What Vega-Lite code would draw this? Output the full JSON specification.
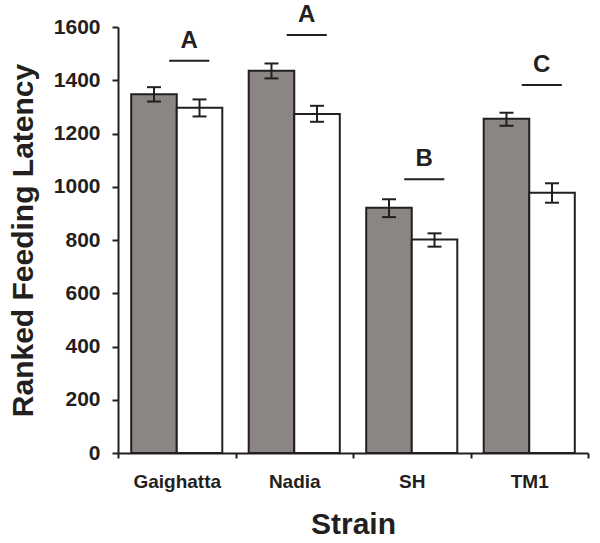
{
  "$schema": "https://vega.github.io/schema/vega-lite/v6.json",
  "width": 470,
  "height": 426,
  "autosize": {"type": "none"},
  "padding": {"left": 118, "top": 27, "right": 12, "bottom": 90},
  "background": "white",
  "config": {
    "view": {"stroke": null},
    "font": "Liberation Sans",
    "axis": {
      "grid": false,
      "domainColor": "#231f20",
      "tickColor": "#231f20",
      "domainWidth": 2,
      "tickWidth": 2,
      "labelColor": "#231f20",
      "titleColor": "#231f20",
      "labelFontWeight": "bold",
      "titleFontWeight": "bold"
    }
  },
  "datasets": {
    "bars": [
      {"Strain": "Gaighatta", "Group": "Group 1", "Mean": 1347, "Lo": 1320, "Hi": 1374},
      {"Strain": "Gaighatta", "Group": "Group 2", "Mean": 1297, "Lo": 1264, "Hi": 1328},
      {"Strain": "Nadia", "Group": "Group 1", "Mean": 1436, "Lo": 1407, "Hi": 1463},
      {"Strain": "Nadia", "Group": "Group 2", "Mean": 1273, "Lo": 1244, "Hi": 1304},
      {"Strain": "SH", "Group": "Group 1", "Mean": 921, "Lo": 886, "Hi": 953},
      {"Strain": "SH", "Group": "Group 2", "Mean": 802, "Lo": 775, "Hi": 825},
      {"Strain": "TM1", "Group": "Group 1", "Mean": 1255, "Lo": 1229, "Hi": 1278},
      {"Strain": "TM1", "Group": "Group 2", "Mean": 977, "Lo": 940, "Hi": 1013}
    ],
    "sig": [
      {"Strain": "Gaighatta", "Letter": "A", "Level": 1473},
      {"Strain": "Nadia", "Letter": "A", "Level": 1570},
      {"Strain": "SH", "Letter": "B", "Level": 1028},
      {"Strain": "TM1", "Letter": "C", "Level": 1382}
    ]
  },
  "layer": [
    {
      "data": {"name": "bars"},
      "mark": {"type": "bar", "stroke": "#231f20", "strokeWidth": 2},
      "encoding": {
        "x": {
          "field": "Strain", "type": "nominal",
          "sort": ["Gaighatta", "Nadia", "SH", "TM1"],
          "scale": {"paddingInner": 0, "paddingOuter": 0},
          "axis": {
            "title": "Strain", "labelAngle": 0, "labelFontSize": 19, "titleFontSize": 30,
            "tickBand": "extent", "tickSize": 5, "labelPadding": 14, "titlePadding": 18
          }
        },
        "xOffset": {"field": "Group", "type": "nominal", "scale": {"paddingInner": 0, "paddingOuter": 0.29}},
        "y": {
          "field": "Mean", "type": "quantitative",
          "scale": {"domain": [0, 1600]},
          "axis": {
            "title": "Ranked Feeding Latency", "values": [0, 200, 400, 600, 800, 1000, 1200, 1400, 1600],
            "format": "d",
            "labelFontSize": 21, "titleFontSize": 30, "tickSize": 6, "labelPadding": 12, "titlePadding": 15
          }
        },
        "fill": {
          "field": "Group", "type": "nominal",
          "scale": {"domain": ["Group 1", "Group 2"], "range": ["#8b8684", "#ffffff"]},
          "legend": null
        }
      }
    },
    {
      "data": {"name": "bars"},
      "mark": {"type": "rule", "color": "#231f20", "strokeWidth": 2},
      "encoding": {
        "x": {"field": "Strain", "type": "nominal", "sort": ["Gaighatta", "Nadia", "SH", "TM1"]},
        "xOffset": {"field": "Group", "type": "nominal"},
        "y": {"field": "Lo", "type": "quantitative"},
        "y2": {"field": "Hi"}
      }
    },
    {
      "data": {"name": "bars"},
      "mark": {"type": "tick", "color": "#231f20", "thickness": 2, "size": 14, "opacity": 1},
      "encoding": {
        "x": {"field": "Strain", "type": "nominal", "sort": ["Gaighatta", "Nadia", "SH", "TM1"]},
        "xOffset": {"field": "Group", "type": "nominal"},
        "y": {"field": "Lo", "type": "quantitative"}
      }
    },
    {
      "data": {"name": "bars"},
      "mark": {"type": "tick", "color": "#231f20", "thickness": 2, "size": 14, "opacity": 1},
      "encoding": {
        "x": {"field": "Strain", "type": "nominal", "sort": ["Gaighatta", "Nadia", "SH", "TM1"]},
        "xOffset": {"field": "Group", "type": "nominal"},
        "y": {"field": "Hi", "type": "quantitative"}
      }
    },
    {
      "data": {"name": "sig"},
      "mark": {"type": "rule", "color": "#231f20", "strokeWidth": 2},
      "encoding": {
        "x": {"field": "Strain", "type": "nominal", "sort": ["Gaighatta", "Nadia", "SH", "TM1"], "bandPosition": 0.436},
        "x2": {"field": "Strain", "bandPosition": 0.777},
        "y": {"field": "Level", "type": "quantitative"}
      }
    },
    {
      "data": {"name": "sig"},
      "mark": {"type": "text", "color": "#231f20", "fontSize": 24, "fontWeight": "bold", "baseline": "alphabetic", "dy": -13},
      "encoding": {
        "x": {"field": "Strain", "type": "nominal", "sort": ["Gaighatta", "Nadia", "SH", "TM1"], "bandPosition": 0.606},
        "y": {"field": "Level", "type": "quantitative"},
        "text": {"field": "Letter"}
      }
    }
  ]
}
